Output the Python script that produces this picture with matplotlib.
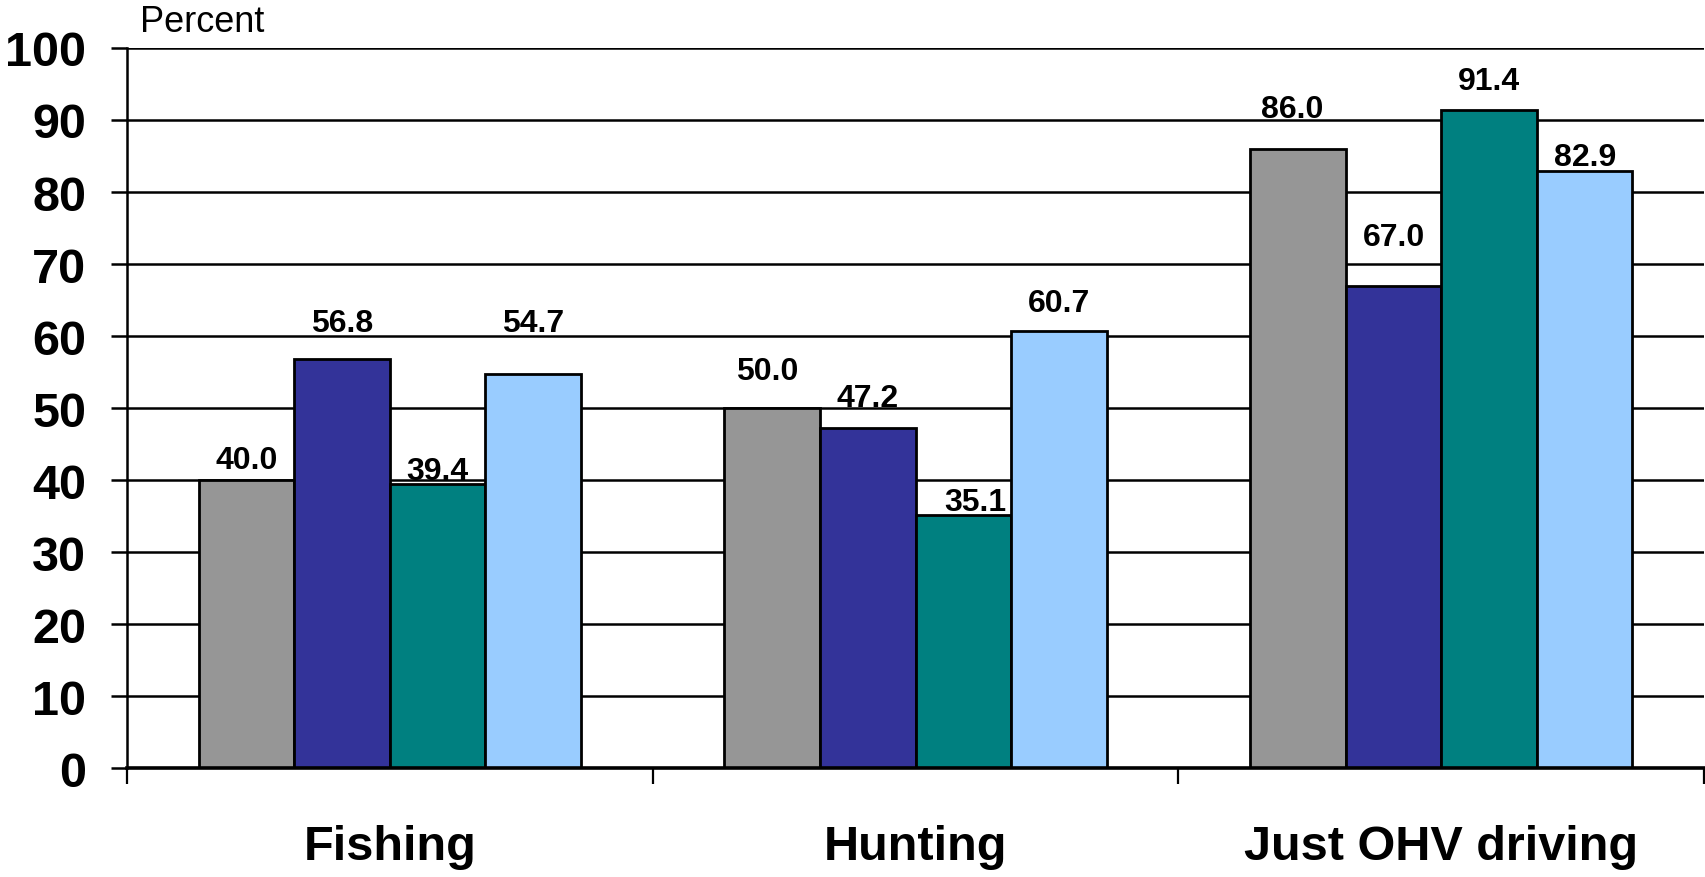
import matplotlib
matplotlib.use("Agg")
import matplotlib.pyplot as plt
import numpy as np

categories = ["Fishing", "Hunting", "Just OHV driving"]
series_1 = [40.0, 50.0, 86.0]
series_2 = [56.8, 47.2, 67.0]
series_3 = [39.4, 35.1, 91.4]
series_4 = [54.7, 60.7, 82.9]
colors = ["#969696", "#333399", "#008080", "#99CCFF"]

# label placement (Excel had them nudged by hand): baseline offset above bar, in data units
label_dy = [[1.7, 4.0, 4.4],
            [3.9, 3.1, 5.7],
            [0.7, 0.8, 2.9],
            [6.0, 2.8, 0.9]]
label_dx = [[0, -0.01, -0.01],
            [0, 0, 0],
            [0, 0.022, 0],
            [0, 0, 0]]

plt.rcParams["font.family"] = ["Liberation Sans", "DejaVu Sans"]

fig = plt.figure(figsize=(17.05, 8.78), dpi=100)
ax = fig.add_axes([0.0745, 0.1241, 0.9250, 0.8201])

x = np.arange(len(categories))
w = 0.1818
all_series = [series_1, series_2, series_3, series_4]
for i, vals in enumerate(all_series):
    pos = x + (i - 1.5) * w
    ax.bar(pos, vals, w, color=colors[i], edgecolor="black", linewidth=2.0, zorder=3)
    for j, v in enumerate(vals):
        ax.text(pos[j] + label_dx[i][j], v + label_dy[i][j], f"{v:.1f}",
                ha="center", va="baseline", fontsize=23, fontweight="bold", zorder=4)

ax.set_xlim(-0.5, 2.5)
ax.set_ylim(0, 100)
ax.set_yticks(range(0, 101, 10))
ax.yaxis.grid(True, color="black", linewidth=1.8, zorder=1)
ax.set_axisbelow(True)

ax.set_xticks(x)
ax.set_xticklabels(categories, fontsize=35, fontweight="bold")
ax.set_xticks([-0.5, 0.5, 1.5, 2.5], minor=True)
ax.tick_params(axis="x", which="major", length=0, pad=40)
ax.tick_params(axis="x", which="minor", length=11.5, width=1.6, direction="out")
ax.tick_params(axis="y", length=11.5, width=1.8, pad=18, labelsize=35)
for lab in ax.get_yticklabels():
    lab.set_fontweight("bold")

ax.spines["top"].set_visible(False)
ax.spines["right"].set_visible(False)
ax.spines["left"].set_linewidth(1.8)
ax.spines["bottom"].set_linewidth(2.6)
ax.spines["bottom"].set_zorder(5)

fig.text(140 / 1705, 1 - 32 / 878, "Percent", fontsize=26, va="baseline", ha="left")

fig.savefig("out.png", dpi=100)
